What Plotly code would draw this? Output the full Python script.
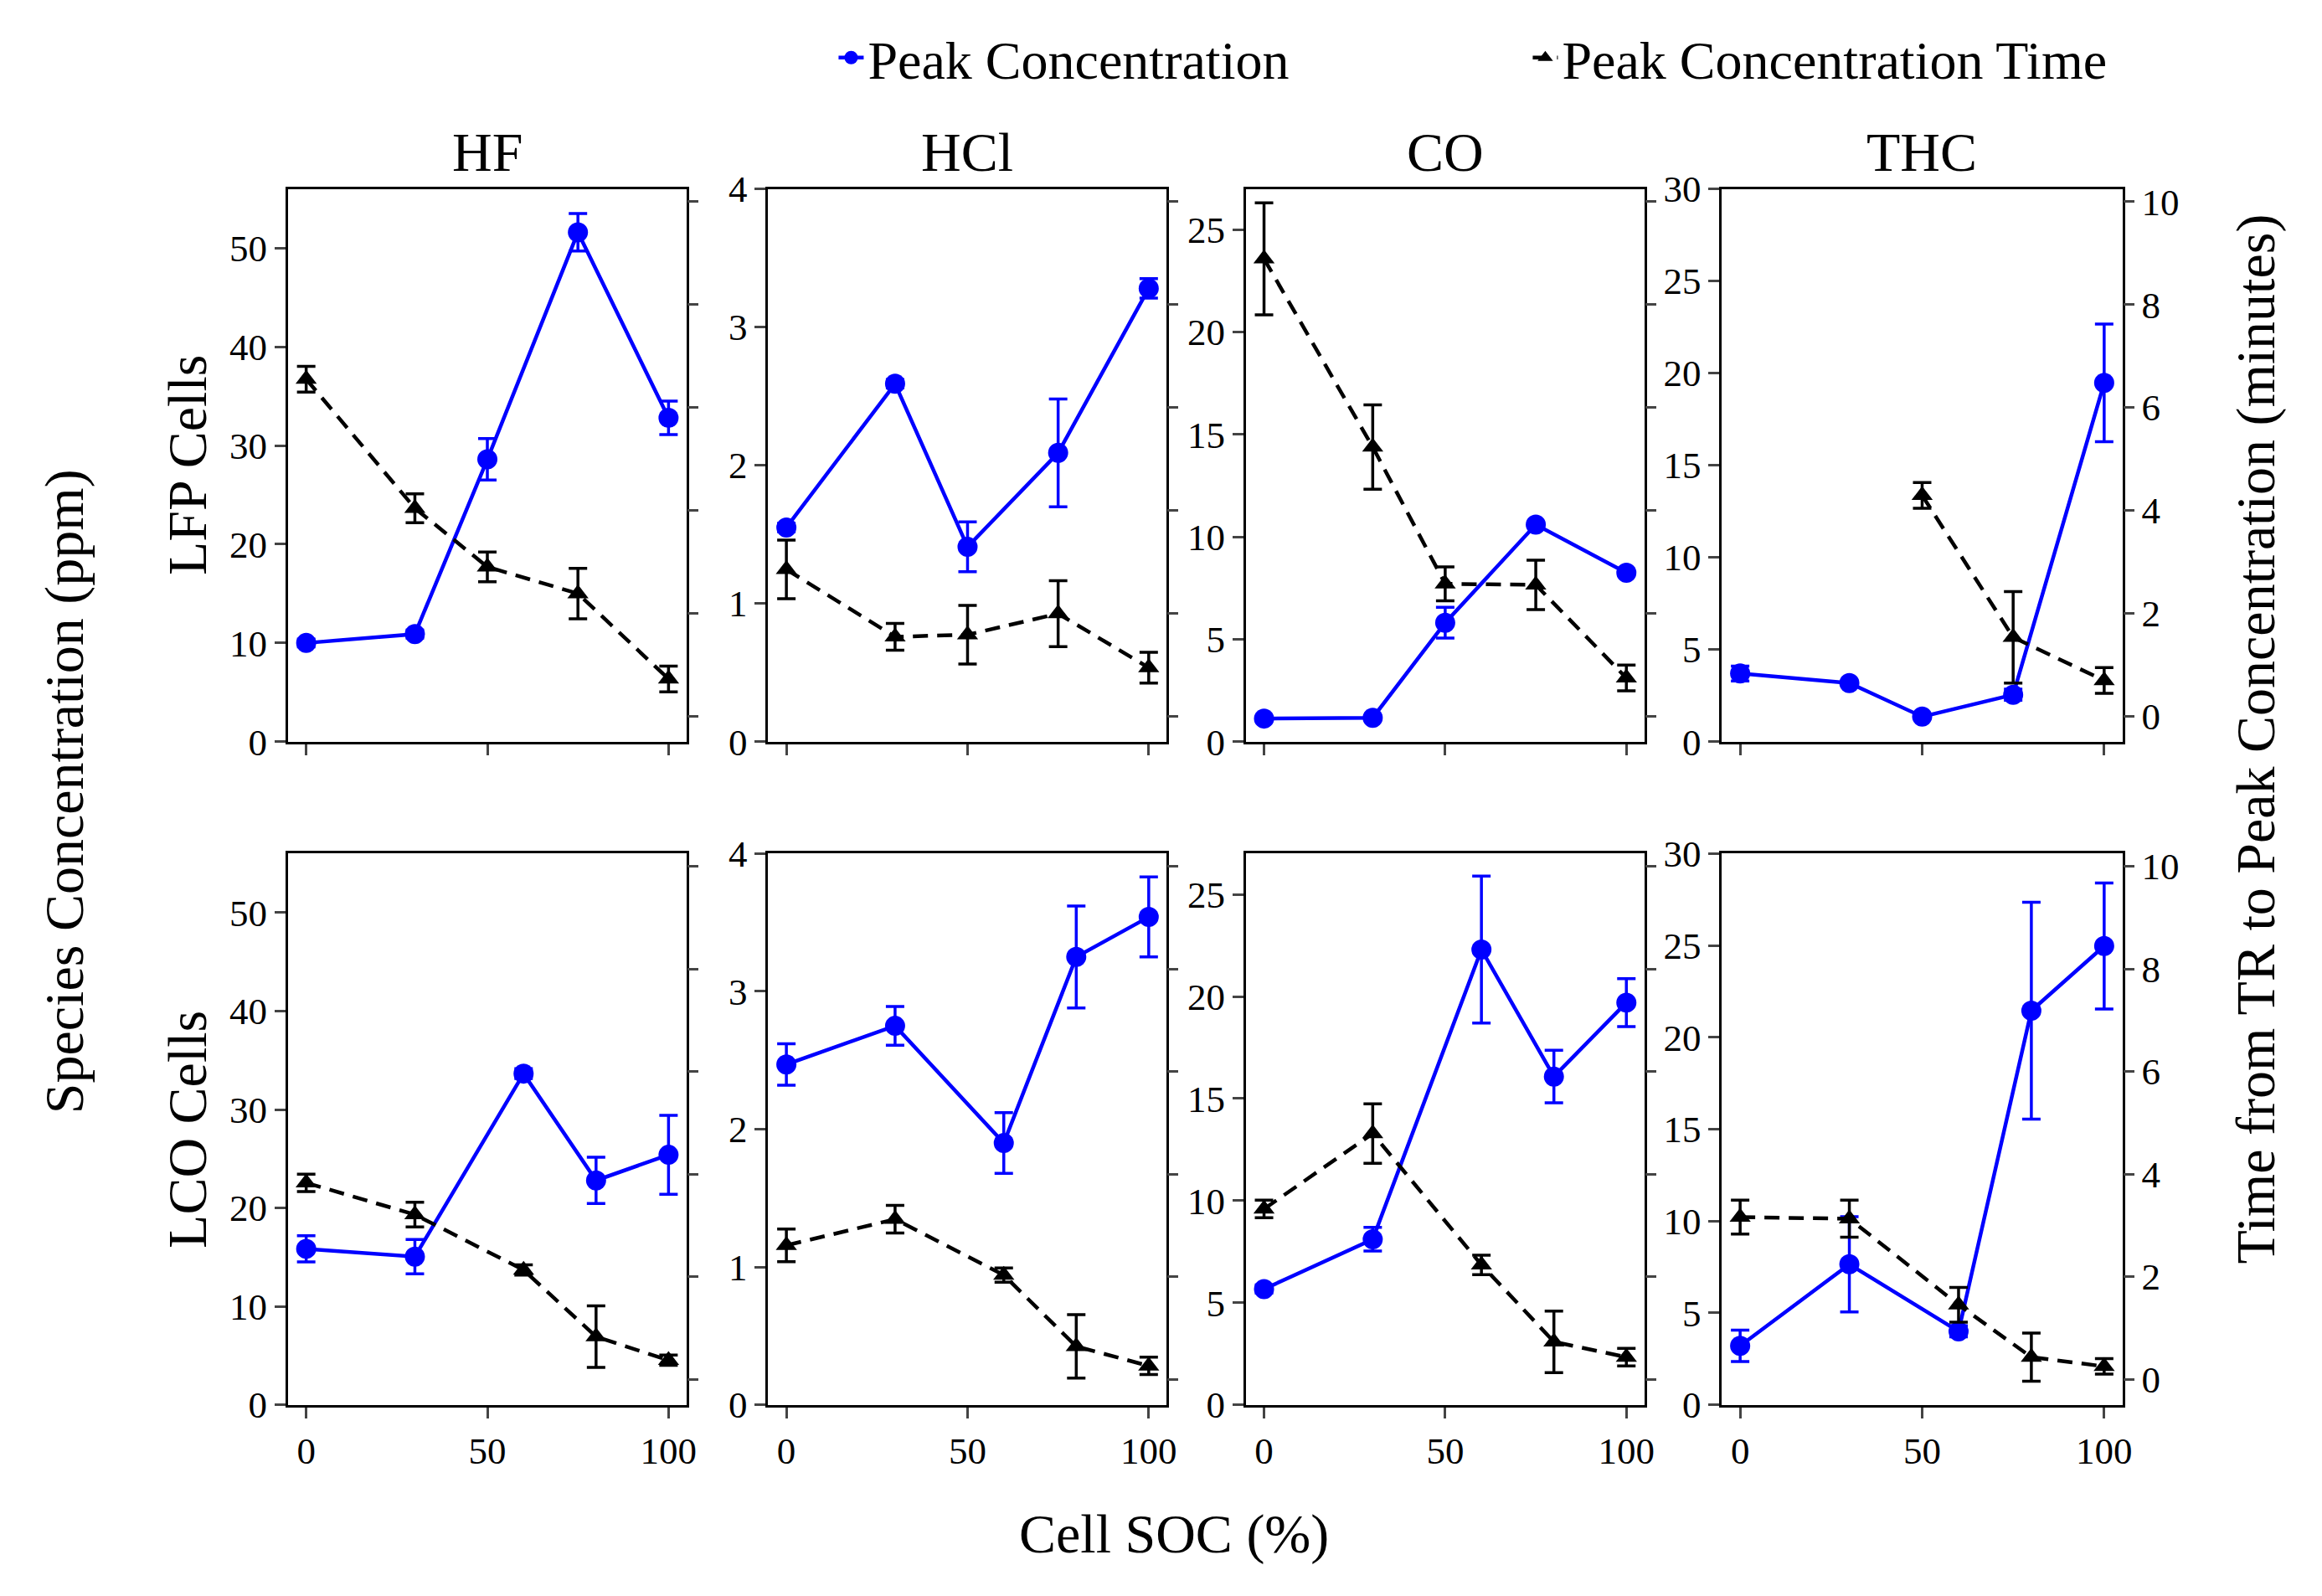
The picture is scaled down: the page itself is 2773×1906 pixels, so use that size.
import plotly.graph_objects as go
from plotly.subplots import make_subplots

# SOC levels tested
soc_lfp = [0, 30, 50, 75, 100]
soc_lco = [0, 30, 60, 80, 100]

gases = ['HF', 'HCl', 'CO', 'THC']
cells = ['LFP Cells', 'LCO Cells']

# LFP peak concentration (ppm) and time to peak (minutes)
hf_lfp_conc = [10.0, 10.9, 28.6, 51.6, 32.8]
hf_lfp_conc_err = [0.4, 0.4, 2.1, 1.9, 1.7]
hf_lfp_time = [6.55, 4.04, 2.9, 2.38, 0.72]
hf_lfp_time_err = [0.25, 0.28, 0.29, 0.49, 0.25]

hcl_lfp_conc = [1.55, 2.59, 1.41, 2.09, 3.28]
hcl_lfp_conc_err = [0.03, 0.03, 0.18, 0.39, 0.07]
hcl_lfp_time = [2.85, 1.54, 1.58, 1.99, 0.94]
hcl_lfp_time_err = [0.57, 0.26, 0.57, 0.64, 0.3]

co_lfp_conc = [1.13, 1.17, 5.81, 10.6, 8.25]
co_lfp_conc_err = [0.1, 0.1, 0.75, 0.1, 0.1]
co_lfp_time = [8.89, 5.23, 2.57, 2.55, 0.74]
co_lfp_time_err = [1.09, 0.82, 0.33, 0.48, 0.25]

thc_lfp_conc = [3.7, 3.18, 1.36, 2.55, 19.47]
thc_lfp_conc_err = [0.4, 0.1, 0.1, 0.3, 3.19]
thc_lfp_time = [None, None, 4.29, 1.53, 0.69]
thc_lfp_time_err = [0, 0, 0.25, 0.89, 0.25]

# LCO peak concentration (ppm) and time to peak (minutes)
hf_lco_conc = [15.85, 15.06, 33.65, 22.8, 25.4]
hf_lco_conc_err = [1.33, 1.74, 0.5, 2.35, 4.0]
hf_lco_time = [3.83, 3.21, 2.13, 0.83, 0.37]
hf_lco_time_err = [0.17, 0.24, 0.1, 0.6, 0.1]

hcl_lco_conc = [2.47, 2.75, 1.9, 3.25, 3.54]
hcl_lco_conc_err = [0.15, 0.14, 0.22, 0.37, 0.29]
hcl_lco_time = [2.61, 3.12, 2.03, 0.64, 0.26]
hcl_lco_time_err = [0.32, 0.27, 0.14, 0.62, 0.17]

co_lco_conc = [5.67, 8.11, 22.3, 16.08, 19.7]
co_lco_conc_err = [0.2, 0.58, 3.6, 1.29, 1.17]
co_lco_time = [3.32, 4.79, 2.23, 0.73, 0.43]
co_lco_time_err = [0.17, 0.58, 0.19, 0.6, 0.17]

thc_lco_conc = [3.21, 7.65, 4.0, 21.45, 24.97]
thc_lco_conc_err = [0.85, 2.59, 0.3, 5.9, 3.43]
thc_lco_time = [3.16, 3.13, 1.45, 0.43, 0.25]
thc_lco_time_err = [0.33, 0.36, 0.34, 0.47, 0.15]

conc_max = [56, 4, 27, 30]
conc_dtick = [10, 1, 5, 5]

panels = [
    [(hf_lfp_conc, hf_lfp_conc_err, hf_lfp_time, hf_lfp_time_err),
     (hcl_lfp_conc, hcl_lfp_conc_err, hcl_lfp_time, hcl_lfp_time_err),
     (co_lfp_conc, co_lfp_conc_err, co_lfp_time, co_lfp_time_err),
     (thc_lfp_conc, thc_lfp_conc_err, thc_lfp_time, thc_lfp_time_err)],
    [(hf_lco_conc, hf_lco_conc_err, hf_lco_time, hf_lco_time_err),
     (hcl_lco_conc, hcl_lco_conc_err, hcl_lco_time, hcl_lco_time_err),
     (co_lco_conc, co_lco_conc_err, co_lco_time, co_lco_time_err),
     (thc_lco_conc, thc_lco_conc_err, thc_lco_time, thc_lco_time_err)],
]
soc_rows = [soc_lfp, soc_lco]

FONT = 'Liberation Serif, Times New Roman, serif'
W, H = 2773, 1906

col_dom = [[0.1217, 0.2941], [0.3294, 0.5018], [0.5360, 0.7084], [0.7419, 0.9151]]
row_dom = [[0.540, 0.8957], [0.1133, 0.468]]

fig = make_subplots(rows=2, cols=4, specs=[[{'secondary_y': True}] * 4] * 2)

for r in range(2):
    for c in range(4):
        conc, conc_err, tme, tme_err = panels[r][c]
        first = (r == 0 and c == 0)
        fig.add_trace(go.Scatter(x=soc_rows[r], y=conc, mode='lines+markers',
                                 name='Peak Concentration', showlegend=first,
                                 line=dict(color='#0000ff', width=4.5),
                                 marker=dict(symbol='circle', size=24, color='#0000ff'),
                                 error_y=dict(type='data', array=conc_err, color='#0000ff',
                                              thickness=3.5, width=11)),
                      row=r + 1, col=c + 1, secondary_y=False)
        fig.add_trace(go.Scatter(x=soc_rows[r], y=tme, mode='lines+markers',
                                 name='Peak Concentration Time', showlegend=first,
                                 line=dict(color='black', width=4.5, dash='18px,11px'),
                                 marker=dict(symbol='triangle-up', size=22, color='black'),
                                 error_y=dict(type='data', array=tme_err, color='black',
                                              thickness=3.5, width=11)),
                      row=r + 1, col=c + 1, secondary_y=True)

        axfont = dict(family=FONT, size=45, color='black')
        fig.update_xaxes(domain=col_dom[c], range=[-5, 105], tickvals=[0, 50, 100],
                         showticklabels=(r == 1), ticks='outside', ticklen=13, tickwidth=2.5,
                         showline=True, linewidth=3, linecolor='black', mirror=True,
                         showgrid=False, zeroline=False, tickfont=axfont,
                         row=r + 1, col=c + 1)
        fig.update_yaxes(domain=row_dom[r], range=[0, conc_max[c]], dtick=conc_dtick[c],
                         ticks='outside', ticklen=13, tickwidth=2.5,
                         showline=True, linewidth=3, linecolor='black', mirror=True,
                         showgrid=False, zeroline=False, tickfont=axfont,
                         row=r + 1, col=c + 1, secondary_y=False)
        fig.update_yaxes(range=[-0.5, 10.25], tickvals=[0, 2, 4, 6, 8, 10],
                         showticklabels=(c == 3), ticks='outside', ticklen=13, tickwidth=2.5,
                         showline=False, showgrid=False, zeroline=False, tickfont=axfont,
                         row=r + 1, col=c + 1, secondary_y=True)

big = dict(family=FONT, size=66, color='black')
annotations = []
for c, g in enumerate(gases):
    annotations.append(dict(text=g, x=sum(col_dom[c]) / 2, y=0.9197, xref='paper', yref='paper',
                            xanchor='center', yanchor='middle', showarrow=False, font=big))
for r, lab in enumerate(cells):
    annotations.append(dict(text=lab, x=0.078, y=sum(row_dom[r]) / 2, xref='paper', yref='paper',
                            xanchor='center', yanchor='middle', textangle=-90,
                            showarrow=False, font=big))
annotations.append(dict(text='Species Concentration (ppm)', x=0.025, y=0.508, xref='paper',
                        yref='paper', xanchor='center', yanchor='middle', textangle=-90,
                        showarrow=False, font=big))
annotations.append(dict(text='Time from TR to Peak Concentration (minutes)', x=0.973, y=0.542,
                        xref='paper', yref='paper', xanchor='center', yanchor='middle',
                        textangle=-90, showarrow=False, font=big))
annotations.append(dict(text='Cell SOC (%)', x=0.505, y=0.030, xref='paper', yref='paper',
                        xanchor='center', yanchor='middle', showarrow=False, font=big))

fig.update_layout(width=W, height=H, margin=dict(l=0, r=0, t=0, b=0),
                  template='plotly_white', plot_bgcolor='white', paper_bgcolor='white',
                  annotations=annotations,
                  legend=dict(orientation='h', x=0.358, y=0.980, xanchor='left', yanchor='middle',
                              font=dict(family=FONT, size=64, color='black'),
                              entrywidth=784, itemwidth=30),
                  font=dict(family=FONT, color='black'))

fig.write_html("out.html")
